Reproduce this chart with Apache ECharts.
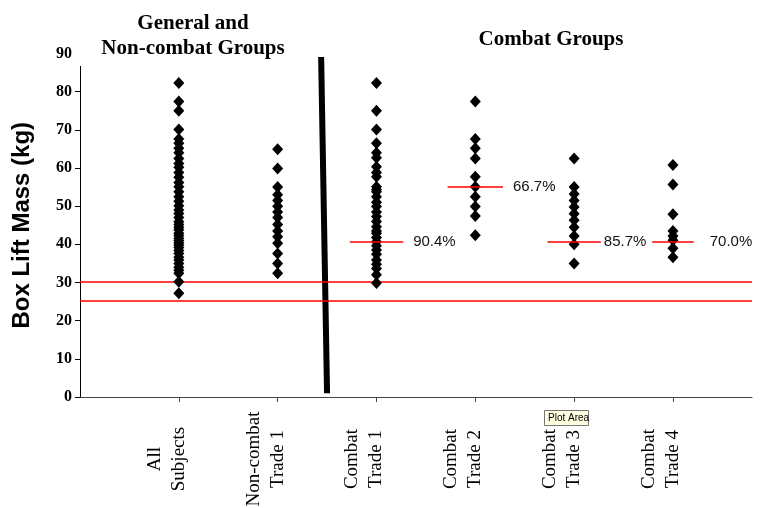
<!DOCTYPE html>
<html><head><meta charset="utf-8">
<script src="https://cdn.jsdelivr.net/npm/echarts@6/dist/echarts.min.js"></script>
<style>html,body{margin:0;padding:0;background:#fff}#c{width:760px;height:508px}</style>
</head><body><div id="c"></div>
<script>
// ---- data ----
const categories = ['All\nSubjects', 'Non-combat\nTrade 1', 'Combat\nTrade 1', 'Combat\nTrade 2', 'Combat\nTrade 3', 'Combat\nTrade 4'];
const allSubjects = [82.3, 77.4, 75.0, 70.1, 67.6, 66.5, 65.2, 64.0, 62.5, 61.2, 60.2, 58.8, 57.6, 56.2, 55.1, 53.8, 52.5, 51.3, 50.1, 49.0, 48.1, 47.0, 45.9, 45.2, 44.5, 43.8, 42.9, 42.3, 41.6, 41.0, 40.4, 39.8, 39.2, 38.4, 37.6, 36.6, 35.9, 35.0, 34.0, 33.2, 32.4, 30.2, 27.2];
const nonCombatTrade1 = [64.9, 59.9, 55.0, 53.0, 51.5, 50.0, 48.5, 47.0, 45.2, 43.5, 42.0, 40.3, 37.6, 35.0, 32.4];
const combatTrade1 = [82.3, 75.0, 70.1, 66.5, 64.0, 62.7, 60.3, 58.8, 57.7, 55.1, 54.3, 53.8, 52.5, 51.0, 49.9, 48.5, 47.3, 46.0, 44.6, 43.5, 42.9, 41.8, 40.7, 39.6, 38.5, 37.4, 35.9, 34.8, 33.7, 32.0, 29.9];
const combatTrade2 = [77.4, 67.6, 65.2, 62.5, 57.7, 55.1, 52.5, 49.9, 47.4, 42.4];
const combatTrade3 = [62.5, 55.0, 53.2, 51.5, 49.8, 48.0, 46.3, 44.5, 42.2, 40.0, 35.0];
const combatTrade4 = [60.8, 55.7, 47.9, 43.5, 42.2, 41.1, 39.0, 36.6];
const groupValues = [allSubjects, nonCombatTrade1, combatTrade1, combatTrade2, combatTrade3, combatTrade4];

const medianGroupIndex = [2, 3, 4, 5];
const medianValues = [40.6, 55.0, 40.6, 40.6];
const medianLabels = ['90.4%', '66.7%', '85.7%', '70.0%'];
const thresholdValues = [30.3, 25.2];
const yMin = 0, yMax = 90, yStep = 10;
const groupHeaders = ['General and\nNon-combat Groups', 'Combat Groups'];
const dividerLine = [[2.44, 89.1], [2.50, 1.0]];

// ---- style / layout ----
const medianHalfWidth = [0.27, 0.28, 0.27, 0.21];
const medianLabelGap = [10, 10, 3, 16];
const serif = '"Liberation Serif", "Times New Roman", serif';
const sans = '"Liberation Sans", Arial, sans-serif';

const chart = echarts.init(document.getElementById('c'), null, {renderer: 'canvas'});

const series = [];
groupValues.forEach((vals, gi) => {
  series.push({
    type: 'scatter',
    name: categories[gi],
    symbol: 'diamond',
    symbolSize: [11, 12],
    itemStyle: {color: '#000', opacity: 1},
    data: vals.map(v => [gi + 1, v]),
    z: 5
  });
});
// threshold red lines
series.push({
  type: 'line',
  data: [],
  markLine: {
    silent: true,
    symbol: 'none',
    label: {show: false},
    lineStyle: {color: '#ff0000', width: 1.5, type: 'solid'},
    data: thresholdValues.map(v => ({yAxis: v}))
  }
});
// median segments with labels
medianGroupIndex.forEach((gi, k) => {
  const x = gi + 1, hw = medianHalfWidth[k];
  series.push({
    type: 'line',
    symbol: 'none',
    lineStyle: {color: '#ff0000', width: 1.5},
    z: 6,
    data: [[x - hw, medianValues[k]], [x + hw, medianValues[k]]],
    endLabel: {show: true, formatter: medianLabels[k], distance: medianLabelGap[k],
               fontFamily: sans, fontSize: 15, color: '#111'}
  });
});
// divider
series.push({
  type: 'line',
  symbol: 'none',
  lineStyle: {color: '#000', width: 6},
  data: dividerLine,
  z: 4
});

chart.setOption({
  animation: false,
  backgroundColor: '#fff',
  grid: {left: 80, top: 53.5, right: 8, bottom: 111, containLabel: false, outerBoundsMode: 'none'},
  xAxis: {
    type: 'value', min: 0, max: 6.8, interval: 1,
    axisLine: {show: true, lineStyle: {color: '#444', width: 1}},
    axisTick: {show: true, length: 5, lineStyle: {color: '#444'}},
    splitLine: {show: false},
    axisLabel: {
      rotate: 90, align: 'center', verticalAlign: 'middle', margin: 62,
      fontFamily: serif, fontSize: 19, lineHeight: 24, color: '#000',
      showMinLabel: false, showMaxLabel: false,
      formatter: v => (Number.isInteger(v) && v >= 1 && v <= categories.length) ? categories[v - 1] + '\n ' : ''
    }
  },
  yAxis: {
    type: 'value', min: yMin, max: yMax, interval: yStep,
    name: 'Box Lift Mass (kg)', nameLocation: 'middle', nameGap: 46, nameRotate: 90,
    nameTextStyle: {fontFamily: sans, fontSize: 24, fontWeight: 'bold', color: '#000'},
    axisLine: {show: true, lineStyle: {color: '#000', width: 1}},
    axisTick: {show: true, length: 5, lineStyle: {color: '#000'}},
    splitLine: {show: false},
    axisLabel: {fontFamily: serif, fontSize: 16, fontWeight: 'bold', color: '#000', margin: 8}
  },
  graphic: [
    {type: 'rect', x: 73.5, y: 6, shape: {width: 217, height: 60}, style: {fill: '#fff'}, z: 100},
    {type: 'text', x: 193, y: 11, z: 101,
     style: {text: groupHeaders[0], font: 'bold 21px ' + serif, fill: '#000', textAlign: 'center', textVerticalAlign: 'top', lineHeight: 25}},
    {type: 'text', x: 551, y: 27, z: 101,
     style: {text: groupHeaders[1], font: 'bold 21px ' + serif, fill: '#000', textAlign: 'center', textVerticalAlign: 'top', lineHeight: 25}},
    {type: 'group', x: 544, y: 410, z: 102, children: [
      {type: 'rect', shape: {x: 0.5, y: 0.5, width: 44, height: 15}, style: {fill: '#ffffe1', stroke: '#767676', lineWidth: 1}},
      {type: 'text', x: 4, y: 3, style: {text: 'Plot Area', font: '10px ' + sans, fill: '#000'}}
    ]}
  ],
  series: series
});
</script>
</body></html>
